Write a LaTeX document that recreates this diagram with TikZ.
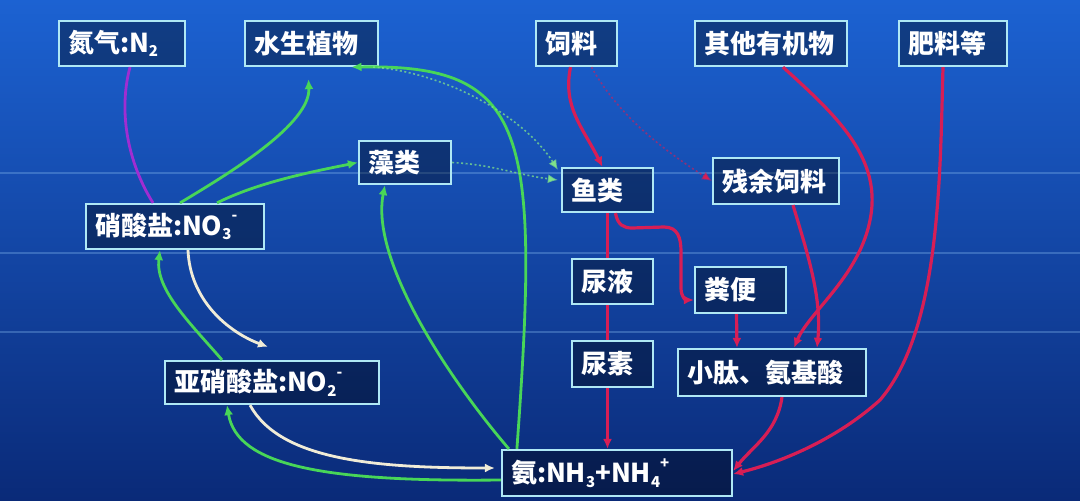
\documentclass[tikz,border=0pt]{standalone}
\usepackage{fontspec}
\setmainfont{Noto Sans CJK SC}
\usetikzlibrary{arrows.meta}
\definecolor{grn}{RGB}{72,214,88}
\definecolor{rd}{RGB}{215,30,85}
\definecolor{pur}{RGB}{160,45,210}
\definecolor{wht}{RGB}{240,236,215}
\definecolor{bord}{RGB}{175,232,245}
\definecolor{bgtop}{RGB}{28,98,210}
\definecolor{bgmid}{RGB}{18,72,178}
\definecolor{bgbot}{RGB}{10,42,120}
\definecolor{bgln}{RGB}{130,180,235}
\newcommand\chemsub[1]{\raisebox{-0.18em}{\fontsize{15}{15}\selectfont #1}}
\newcommand\chemsup[1]{\raisebox{0.55em}{\fontsize{15}{15}\selectfont #1}}
\begin{document}
\begin{tikzpicture}[x=1pt,y=-1pt,
  box/.style={draw=bord, line width=2.2pt, fill=black, fill opacity=0.36, text opacity=1,
    text=white, font=\bfseries\fontsize{26}{30}\selectfont, inner xsep=9pt, inner ysep=0pt,
    align=left, minimum height=45pt},
  tip/.style={-{Latex[length=10pt,width=9pt]}},
  gline/.style={draw=grn, line width=2.8pt, tip},
  pline/.style={draw=pur, line width=2.8pt},
  wline/.style={draw=wht, line width=2.8pt, tip},
  rplain/.style={draw=rd, line width=3.2pt},
  rline/.style={draw=rd, line width=3.2pt, tip},
  gdot/.style={draw=grn!70!white, draw opacity=0.75, line width=1.6pt, dash pattern=on 2pt off 2.5pt, tip},
  rdot/.style={draw=rd, draw opacity=0.6, line width=1.6pt, dash pattern=on 2pt off 2.5pt, tip},
  bgline/.style={draw=bgln, draw opacity=0.35, line width=1.2pt}]
\useasboundingbox (0,0) rectangle (1080,501);
\shade[top color=bgtop, middle color=bgmid, bottom color=bgbot] (0,0) rectangle (1080,501);
\draw[bgline] (0,173) -- (1080,173);
\draw[bgline] (0,253) -- (1080,253);
\draw[bgline] (0,332) -- (1080,332);

% nodes
\node[box, text width=108pt] (n2) at (122,43.5) {氮气:N\chemsub{2}};
\node[box, text width=115pt] (plant) at (311.5,43.5) {水生植物};
\node[box, text width=63pt] (feed) at (576.5,43.5) {饲料};
\node[box, text width=134pt] (organic) at (771,43.5) {其他有机物};
\node[box, text width=90pt] (fert) at (953,43.5) {肥料等};
\node[box, text width=74pt, minimum height=43pt] (algae) at (405,162.5) {藻类};
\node[box, text width=73pt, minimum height=44pt] (fish) at (607.5,190) {鱼类};
\node[box, text width=108pt, minimum height=46pt] (residual) at (776,181) {残余饲料};
\node[box, text width=160pt] (nitrate) at (175,226.5) {硝酸盐:NO\chemsub{3}\chemsup{-}};
\node[box, text width=63pt] (urine) at (612.5,281.5) {尿液};
\node[box, text width=73pt, minimum height=46pt] (feces) at (740.5,290) {粪便};
\node[box, text width=63pt, minimum height=46pt] (urea) at (612.5,364) {尿素};
\node[box, text width=170pt, minimum height=47pt] (peptide) at (772,372.5) {小肽、氨基酸};
\node[box, text width=196pt, minimum height=43pt] (nitrite) at (272,382.5) {亚硝酸盐:NO\chemsub{2}\chemsup{-}};
\node[box, text width=212pt, minimum height=46pt] (ammonia) at (617,473) {氨:NH\chemsub{3}+NH\chemsub{4}\chemsup{+}};

% purple
\draw[pline] ([xshift=8pt]n2.south) .. controls +(-12,45) and +(-25,-40) .. ([xshift=-22pt]nitrate.north);
% green
\draw[gline] ([xshift=5pt]nitrate.north) .. controls +(50,-30) and +(2,45) .. ([xshift=-3pt,yshift=-12pt]plant.south);
\draw[gline] ([xshift=42pt]nitrate.north) .. controls +(40,-20) and +(-50,10) .. (algae.west);
\draw[gline] ([xshift=8pt]ammonia.north west) .. controls +(-60,-70) and +(-15,75) .. ([xshift=-20pt]algae.south);
\draw[gline] ([xshift=16pt]ammonia.north west) .. controls (540,130) and (528,64) .. ([xshift=40pt]plant.south);
\draw[gline] ([yshift=-7pt]ammonia.west) .. controls +(-180,2) and +(10,60) .. ([xshift=-45pt]nitrite.south);
\draw[gline] ([xshift=-50pt]nitrite.north) .. controls +(-30,-35) and +(-5,40) .. ([xshift=-15pt]nitrate.south);
% dotted green
\draw[gdot] ([xshift=-6pt]plant.south east) .. controls +(70,5) and +(-35,-55) .. ([xshift=-3pt,yshift=-3pt]fish.north west);
\draw[gdot] (algae.east) .. controls +(40,2) and +(-40,-5) .. ([xshift=-3pt,yshift=10pt]fish.west);
% white
\draw[wline] ([xshift=13pt]nitrate.south) .. controls +(2,50) and +(-40,-15) .. ([xshift=-4pt,yshift=13pt]nitrite.north);
\draw[wline] ([xshift=-22pt]nitrite.south) .. controls +(30,55) and +(-120,0) .. ([xshift=-6pt,yshift=5pt]ammonia.west);
% red
\draw[rline] ([xshift=-6pt]feed.south) .. controls +(-8,40) and +(-20,-40) .. ([xshift=-5pt]fish.north);
\draw[rdot] ([xshift=15pt]feed.south) .. controls +(25,45) and +(-55,-35) .. (residual.west);
\draw[rplain] (fish.south) -- ([xshift=-5pt]urine.north);
\draw[rplain] ([xshift=-5pt]urine.south) -- ([xshift=-5pt]urea.north);
\draw[rline] ([xshift=-5pt]urea.south) -- ([xshift=-9.5pt]ammonia.north);
\draw[rline] ([xshift=8pt]fish.south) .. controls +(2,12) and +(-8,0) .. (632,228) -- (664,227)
  .. controls (678,227) and (681,238) .. (681,252) -- (681,288)
  .. controls (681,297) and (686,300) .. ([yshift=-10pt]feces.west);
\draw[rline] ([xshift=-4pt]feces.south) -- ([xshift=-35pt]peptide.north);
\draw[rline] ([xshift=12pt]organic.south) .. controls (830,110) and (875,150) .. (872,205)
  .. controls (868,270) and (810,310) .. ([xshift=22pt]peptide.north);
\draw[rline] ([xshift=17pt]residual.south) .. controls +(15,50) and +(5,-50) .. ([xshift=45pt]peptide.north);
\draw[rline] ([xshift=10pt]peptide.south) .. controls +(-5,35) and +(20,-25) .. ([yshift=2pt]ammonia.east);
\draw[rline] ([xshift=-10pt]fert.south) .. controls (940,180) and (940,330) .. (880,400)
  .. controls (830,445) and (770,465) .. ([yshift=-1pt]ammonia.east);
\end{tikzpicture}
\end{document}
